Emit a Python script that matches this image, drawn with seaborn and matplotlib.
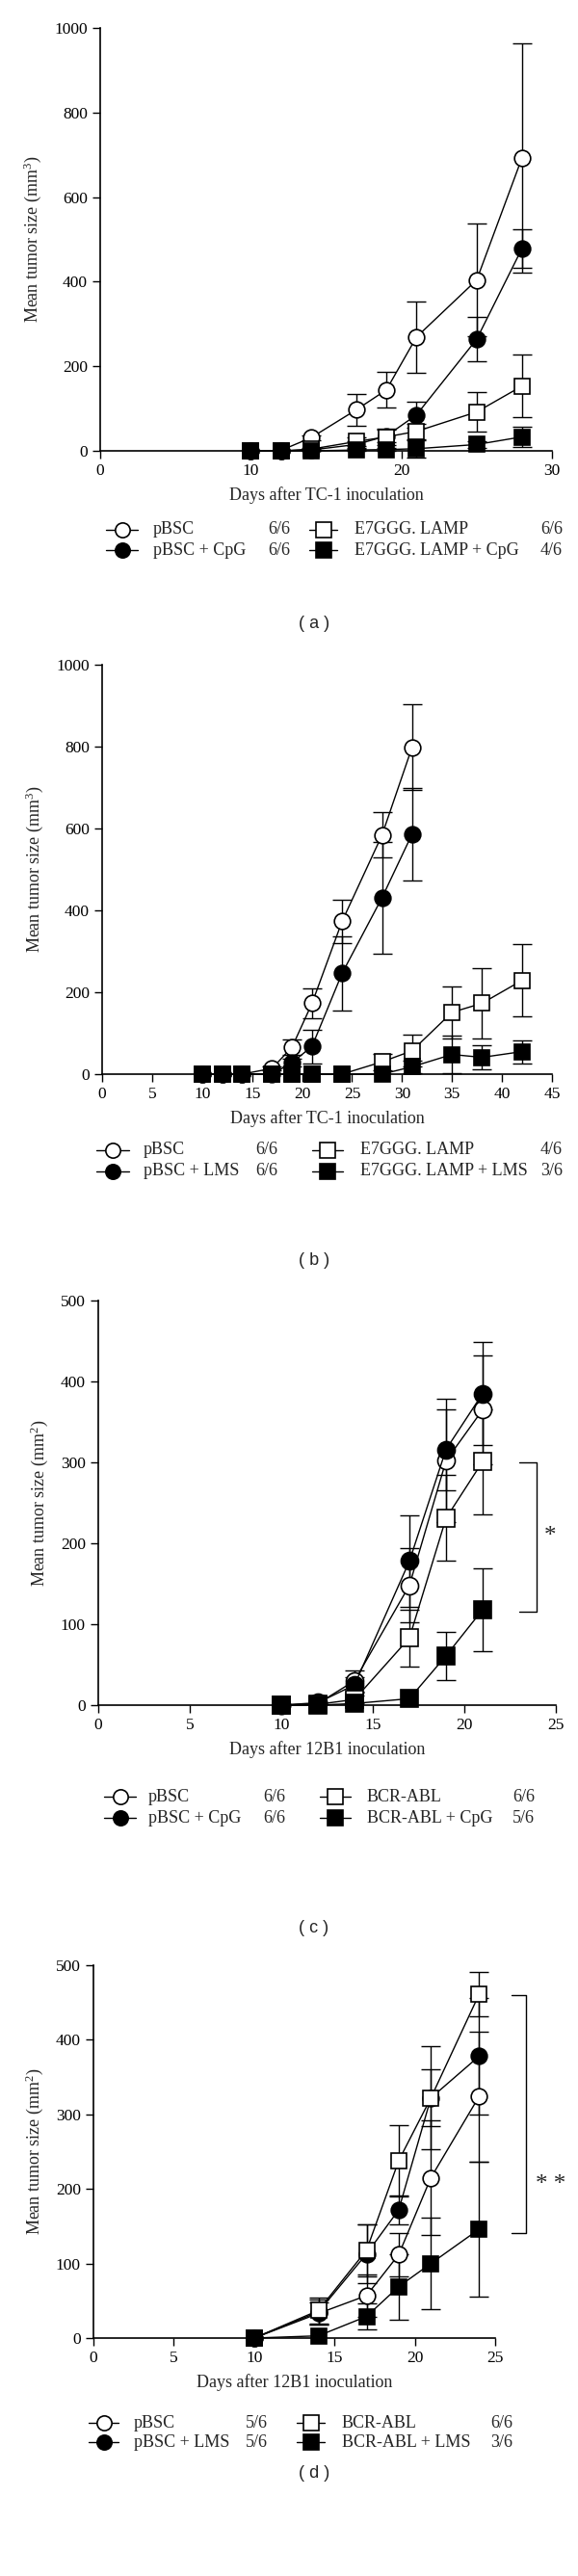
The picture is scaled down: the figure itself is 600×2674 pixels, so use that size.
import matplotlib
matplotlib.use('Agg')
import matplotlib.pyplot as plt
from matplotlib.lines import Line2D
import seaborn as sns
import pandas as pd
import numpy as np

# ---- panel (a) TC-1, CpG
days_a = [10, 12, 14, 17, 19, 21, 25, 28]
pbsc_a = [0, 1, 31, 97, 144, 269, 404, 692]
pbsc_a_err = [0, 0, 5, 37, 42, 84, 133, 271]
cpg_a = [0, 0, 2, 15, 35, 85, 264, 478]
cpg_a_err = [0, 0, 2, 8, 15, 31, 52, 45]
lamp_a = [0, 0, 4, 22, 33, 46, 92, 153]
lamp_a_err = [0, 0, 3, 10, 20, 18, 46, 74]
lampcpg_a = [0, 0, 0, 2, 3, 5, 15, 33]
lampcpg_a_err = [0, 0, 0, 2, 3, 20, 8, 23]

# ---- panel (b) TC-1, LMS
days_b = [10, 12, 14, 17, 19, 21, 24, 28, 31, 35, 38, 42]
days_b_short = [10, 12, 14, 17, 19, 21, 24, 28, 31]
pbsc_b = [0, 0, 0, 14, 66, 173, 373, 584, 798]
pbsc_b_err = [0, 0, 0, 5, 19, 36, 52, 55, 105]
lms_b = [0, 0, 0, 0, 28, 68, 246, 431, 586]
lms_b_err = [0, 0, 0, 0, 10, 41, 90, 137, 112]
lamp_b = [0, 0, 0, 0, 0, 0, 0, 30, 57, 151, 173, 229]
lamp_b_err = [0, 0, 0, 0, 0, 0, 0, 20, 39, 63, 86, 88]
lamplms_b = [0, 0, 0, 0, 0, 0, 0, 0, 18, 48, 41, 55]
lamplms_b_err = [0, 0, 0, 0, 0, 0, 0, 0, 15, 45, 30, 28]

# ---- panel (c) 12B1, CpG
days_c = [10, 12, 14, 17, 19, 21]
pbsc_c = [0, 2, 30, 148, 302, 365]
pbsc_c_err = [0, 0, 13, 46, 76, 67]
cpg_c = [0, 3, 25, 178, 316, 385]
cpg_c_err = [0, 0, 10, 57, 50, 64]
bcr_c = [0, 1, 7, 83, 231, 301]
bcr_c_err = [0, 0, 5, 35, 53, 65]
bcrcpg_c = [0, 0, 2, 8, 61, 118]
bcrcpg_c_err = [0, 0, 0, 0, 30, 51]

# ---- panel (d) 12B1, LMS
days_d = [10, 14, 17, 19, 21, 24]
pbsc_d = [0, 33, 57, 112, 215, 324]
pbsc_d_err = [0, 15, 28, 29, 77, 87]
lms_d = [0, 35, 113, 172, 322, 378]
lms_d_err = [0, 17, 40, 19, 38, 78]
bcr_d = [0, 37, 118, 238, 322, 461]
bcr_d_err = [0, 17, 35, 48, 69, 30]
bcrlms_d = [0, 3, 29, 69, 100, 146]
bcrlms_d_err = [0, 0, 18, 44, 61, 91]

labels_a = ['pBSC', 'pBSC + CpG', 'E7GGG. LAMP', 'E7GGG. LAMP + CpG']
counts_a = ['6/6', '6/6', '6/6', '4/6']
labels_b = ['pBSC', 'pBSC + LMS', 'E7GGG. LAMP', 'E7GGG. LAMP + LMS']
counts_b = ['6/6', '6/6', '4/6', '3/6']
labels_c = ['pBSC', 'pBSC + CpG', 'BCR-ABL', 'BCR-ABL + CpG']
counts_c = ['6/6', '6/6', '6/6', '5/6']
labels_d = ['pBSC', 'pBSC + LMS', 'BCR-ABL', 'BCR-ABL + LMS']
counts_d = ['5/6', '5/6', '6/6', '3/6']

sns.set_style('ticks')
plt.rcParams['font.family'] = ['Liberation Serif', 'DejaVu Serif']
plt.rcParams['mathtext.default'] = 'regular'

W, H = 600, 2674
fig = plt.figure(figsize=(W / 100, H / 100), dpi=100)

# marker styles: open circle, filled circle, open square, filled square
styles = [('o', 'white'), ('o', 'black'), ('s', 'white'), ('s', 'black')]


def fx(px):
    return px / W


def fy(py):
    return 1 - py / H


def make_axes(left, right, top, bottom):
    return fig.add_axes([fx(left), fy(bottom), (right - left) / W, (bottom - top) / H])


def draw_series(ax, x, y, err, k, ms):
    m, fc = styles[k]
    df = pd.DataFrame({'day': x, 'size': y})
    sns.lineplot(data=df, x='day', y='size', ax=ax, color='black', lw=1.0,
                 marker=m, markersize=ms, markerfacecolor=fc,
                 markeredgecolor='black', markeredgewidth=1.2, zorder=3 + k,
                 clip_on=False)
    x = np.array(x)
    y = np.array(y)
    err = np.array(err)
    keep = err > 0
    ax.errorbar(x[keep], y[keep], yerr=err[keep], fmt='none', ecolor='black',
                elinewidth=1.0, capsize=7, capthick=1.0, zorder=2, clip_on=False)


def style_axes(ax, xmax, xstep, ymax, ystep, xlabel, unit):
    ax.set_xlim(0, xmax)
    ax.set_ylim(0, ymax)
    ax.set_xticks(np.arange(0, xmax + 1, xstep))
    ax.set_yticks(np.arange(0, ymax + 1, ystep))
    ax.set_xlabel(xlabel, fontsize=13, labelpad=6)
    ax.set_ylabel('Mean tumor size (mm$^{%s}$)' % unit, fontsize=13, labelpad=8)
    ax.tick_params(direction='out', length=6, width=1.0, labelsize=12.5,
                   colors='black')
    for s in ['left', 'bottom']:
        ax.spines[s].set_linewidth(1.2)
        ax.spines[s].set_color('black')
    sns.despine(ax=ax)
    ax.set_facecolor('white')


def legend(labels, counts, rows, h1, l1, c1, h2, l2, c2, ms=11):
    cols = [(h1, l1, c1), (h2, l2, c2)]
    for i in range(4):
        (hx0, hx1), lx, cx = cols[i // 2]
        yy = fy(rows[i % 2])
        m, fc = styles[i]
        fig.add_artist(Line2D([fx(hx0), fx(hx1)], [yy, yy], color='black', lw=1.0))
        fig.add_artist(Line2D([fx((hx0 + hx1) / 2)], [yy], marker=m, ms=ms,
                              mfc=fc, mec='black', mew=1.2, color='black'))
        fig.text(fx(lx), yy, labels[i], fontsize=13, va='center', ha='left')
        fig.text(fx(cx), yy, counts[i], fontsize=13, va='center', ha='left')


def caption(text, py):
    fig.text(0.543, fy(py), text, fontsize=13, ha='center', va='center',
             family=['Liberation Sans', 'DejaVu Sans'])


# (a)
ax = make_axes(104, 573, 29, 468)
draw_series(ax, days_a, pbsc_a, pbsc_a_err, 0, 12)
draw_series(ax, days_a, lamp_a, lamp_a_err, 2, 12)
draw_series(ax, days_a, cpg_a, cpg_a_err, 1, 12)
draw_series(ax, days_a, lampcpg_a, lampcpg_a_err, 3, 12)
style_axes(ax, 30, 10, 1000, 200, 'Days after TC-1 inoculation', '3')
legend(labels_a, counts_a, [550, 571], (110, 143), 159, 278, (321, 350), 368, 561)
caption('( a )', 648)

# (b)
ax = make_axes(106, 573, 690, 1115)
draw_series(ax, days_b_short, pbsc_b, pbsc_b_err, 0, 12)
draw_series(ax, days_b, lamp_b, lamp_b_err, 2, 12)
draw_series(ax, days_b_short, lms_b, lms_b_err, 1, 12)
draw_series(ax, days_b, lamplms_b, lamplms_b_err, 3, 12)
style_axes(ax, 45, 5, 1000, 200, 'Days after TC-1 inoculation', '3')
legend(labels_b, counts_b, [1194, 1216], (100, 134), 149, 265, (324, 356), 374, 561)
caption('( b )', 1308)

# (c)
ax = make_axes(102, 577, 1350, 1770)
draw_series(ax, days_c, pbsc_c, pbsc_c_err, 0, 13)
draw_series(ax, days_c, bcr_c, bcr_c_err, 2, 13)
draw_series(ax, days_c, cpg_c, cpg_c_err, 1, 13)
draw_series(ax, days_c, bcrcpg_c, bcrcpg_c_err, 3, 13)
style_axes(ax, 25, 5, 500, 100, 'Days after 12B1 inoculation', '2')
ax.plot([23.0, 23.95, 23.95, 23.0], [300, 300, 116, 116], color='black', lw=1.0,
        clip_on=False)
ax.text(24.7, 208, '*', fontsize=18, ha='center', va='center')
legend(labels_c, counts_c, [1865, 1887], (108, 141), 154, 273, (332, 364), 381, 532)
caption('( c )', 2001)

# (d)
ax = make_axes(97, 514, 2040, 2427)
draw_series(ax, days_d, pbsc_d, pbsc_d_err, 0, 12)
draw_series(ax, days_d, bcr_d, bcr_d_err, 2, 12)
draw_series(ax, days_d, lms_d, lms_d_err, 1, 12)
draw_series(ax, days_d, bcrlms_d, bcrlms_d_err, 3, 12)
style_axes(ax, 25, 5, 500, 100, 'Days after 12B1 inoculation', '2')
ax.plot([26.0, 26.9, 26.9, 26.0], [460, 460, 141, 141], color='black', lw=1.0,
        clip_on=False)
ax.text(28.45, 205, '* *', fontsize=18, ha='center', va='center')
legend(labels_d, counts_d, [2515, 2535], (92, 123), 139, 255, (308, 337), 355, 509)
caption('( d )', 2567)

fig.savefig('out.png', dpi=100, facecolor='white')
